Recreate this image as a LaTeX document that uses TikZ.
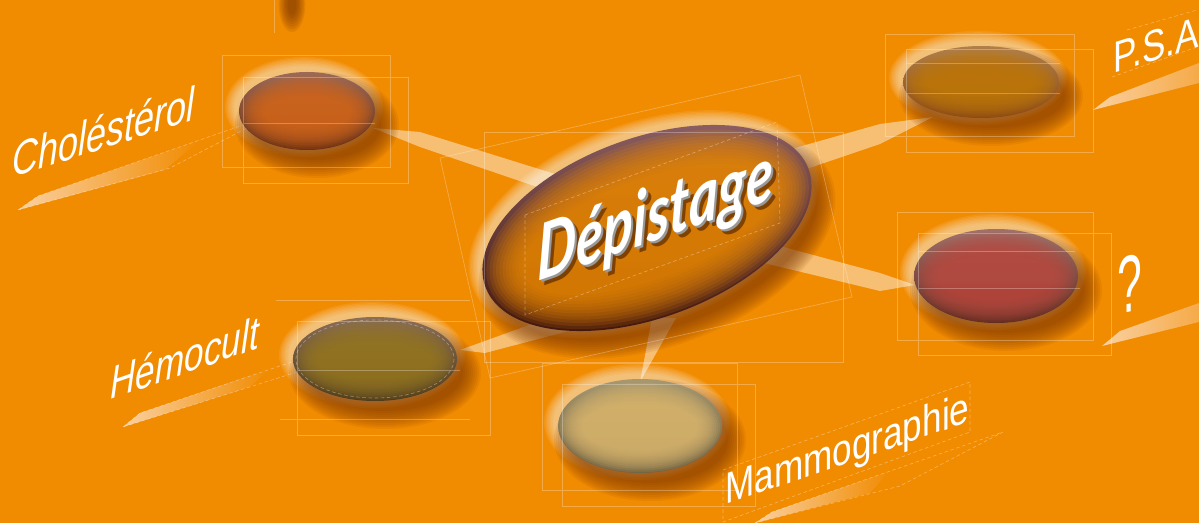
\documentclass[tikz,border=0pt]{standalone}
\usepackage{fontspec}
\setmainfont{Liberation Sans}
\newfontfamily\depfont{Lato}
\usetikzlibrary{calc}
\definecolor{bg}{HTML}{F18B00}
\definecolor{stripc}{HTML}{FAD0A0}
\definecolor{shadowc}{HTML}{7A3400}
\definecolor{cholT}{HTML}{9C6A58}\definecolor{cholC}{HTML}{D8691A}\definecolor{cholB}{HTML}{6A2E10}
\definecolor{psaT}{HTML}{B0804A}\definecolor{psaC}{HTML}{C27A06}\definecolor{psaB}{HTML}{8A4812}
\definecolor{qT}{HTML}{A0706A}\definecolor{qC}{HTML}{BC4A40}\definecolor{qB}{HTML}{5E2A1E}
\definecolor{hemT}{HTML}{8A6E58}\definecolor{hemC}{HTML}{9A7A20}\definecolor{hemB}{HTML}{4A381A}
\definecolor{mamT}{HTML}{A89870}\definecolor{mamC}{HTML}{DFBA70}\definecolor{mamB}{HTML}{6E6040}
\definecolor{cenT}{HTML}{8A5E62}\definecolor{cenC}{HTML}{EE8A00}\definecolor{cenB}{HTML}{3E1206}
\definecolor{depsh}{HTML}{3A1400}
\newcommand\pillstep{2}
\newcommand\pill[9]{%
 \coordinate (#9) at (#1,#2);
 \begin{scope}[shift={(#1,#2)}]
  \begin{scope}[shift={(-3,-4)},rotate=#5]
   \foreach \k in {1,...,8} \fill[white,opacity=0.08] (0,0) ellipse [x radius={#3+1.4*\k}, y radius={#4+1.4*\k}];
  \end{scope}
  \begin{scope}[shift={(10,14)},rotate=#5]
   \foreach \k in {0,...,9} \fill[shadowc,opacity=0.09] (0,0) ellipse [x radius={#3+2*\k-4}, y radius={#4+2*\k-4}];
  \end{scope}
  \begin{scope}[rotate=#5]
   \shade[top color=#6, bottom color=#8] (0,0) ellipse [x radius=#3, y radius=#4];
   \foreach \k in {1,...,12} \fill[#7,opacity=0.14] (0,1.5) ellipse [x radius={#3-\pillstep*\k}, y radius={#4-\pillstep*\k}];
  \end{scope}
 \end{scope}}
\tikzset{
 fl/.style={draw=white, draw opacity=0.28, line width=0.4pt},
 dl/.style={draw=white, draw opacity=0.35, line width=0.35pt, dash pattern=on 2pt off 1.5pt},
 wedge/.style={fill=white, fill opacity=0.45},
 lab/.style={text=white, inner sep=0pt, font=\itshape\fontsize{27}{27}\selectfont},
 dep/.style={anchor=base west, yslant=0.35, xscale=0.72, inner sep=0pt, font=\depfont\bfseries\itshape\fontsize{44}{44}\selectfont},
}
\begin{document}
\begin{tikzpicture}[x=0.02cm,y=-0.02cm]
\fill[bg] (0,0) rectangle (1199,523);
\useasboundingbox (0,0) rectangle (1199,523);
\clip (0,0) rectangle (1199,523);

% label strips
\shade[left color=stripc, right color=bg] (18,210)--(38,196)--(200,140)--(165,170)--cycle;
\draw[dl] (18,210)--(38,196)--(272,115)--(170,168)--cycle;
\shade[left color=stripc, right color=bg] (123,427)--(140,413)--(270,369)--(250,387)--cycle;
\draw[dl] (123,427)--(140,413)--(378,333)--(297,372)--cycle;
\shade[left color=stripc, right color=stripc!45!bg] (1093,110)--(1110,97)--(1199,63)--(1199,83)--cycle;
\shade[left color=stripc, right color=stripc!45!bg] (1102,346)--(1120,331)--(1199,303)--(1199,322)--cycle;
\shade[left color=stripc, right color=bg] (755,523)--(772,512)--(890,471)--(870,493)--cycle;
\draw[dl] (755,523)--(772,512)--(1003,432)--(900,486)--cycle;

% top blob
\foreach \k in {1,...,8} \fill[shadowc,opacity=0.12] (292,4) ellipse [x radius={3+1.3*\k}, y radius={8+2.5*\k}];

% connectors
\fill[wedge] (373,128)--(420,132)--(600,188)--(590,205)--(420,147)--cycle;
\fill[wedge] (933,117)--(880,124)--(770,155)--(780,178)--(880,144)--cycle;
\fill[wedge] (915,285)--(880,273)--(750,238)--(760,262)--(880,291)--cycle;
\fill[wedge] (460,350)--(565,312)--(580,328)--(485,353)--cycle;
\fill[wedge] (640,382)--(652,318)--(676,318)--cycle;

% pills
\pill{307}{111}{68}{39}{0}{cholT}{cholC}{cholB}{chol}
\pill{981}{82}{78}{36}{0}{psaT}{psaC}{psaB}{psa}
\pill{996}{276}{82}{47}{0}{qT}{qC}{qB}{q}
\pill{375}{359}{82}{42}{0}{hemT}{hemC}{hemB}{hemo}
\pill{640}{426}{82}{47}{0}{mamT}{mamC}{mamB}{mammo}
\renewcommand\pillstep{3.3}
\pill{647}{228}{172}{90}{20}{cenT}{cenC}{cenB}{cen}
\draw[dl] (hemo) ellipse [x radius=79, y radius=39];

% faint frame lines
\draw[fl] (222,55) rectangle (390,167) (243,77) rectangle (408,183) (243,123)--(375,123);
\draw[fl] (274,0)--(274,33);
\draw[fl] (885,34) rectangle (1074,136) (906,49) rectangle (1093,152) (906,63)--(1060,63) (906,93)--(1060,93);
\draw[fl] (897,212) rectangle (1093,340) (918,233) rectangle (1111,355) (918,251)--(1075,251) (918,288)--(1080,288);
\draw[fl] (297,321) rectangle (490,435) (276,300)--(470,300) (280,419)--(470,419) (297,370)--(460,370);
\draw[fl] (542,363) rectangle (737,490) (562,384) rectangle (755,506);
\draw[fl] (440,158)--(800,75)--(852,297)--(490,378)--cycle;
\draw[fl] (484,132) rectangle (843,362);
\draw[dl] (525,215)--(777,122)--(780,223)--(525,315)--cycle;
\draw[dl] (1127,30)--(1197,10) (1112,77)--(1197,47);
\draw[dl] (723,470)--(970,382)--(970,432)--(723,522)--cycle;

% labels
\node[lab, anchor=base west, yslant=0.32, xscale=0.76] (tchol) at (12,178) {Choléstérol};
\node[lab, anchor=base west, yslant=0.35, xscale=0.77, font=\itshape\fontsize{26}{26}\selectfont] (themo) at (110,400) {Hémocult};
\node[lab, anchor=base west, yslant=0.32, xscale=0.8, font=\fontsize{25}{25}\selectfont] (tpsa) at (1113,74) {P.S.A};
\node[lab, anchor=base, yslant=0.2, xscale=0.55, font=\fontsize{46}{46}\selectfont] (tq) at (1130,312) {?};
\node[lab, anchor=base west, yslant=0.34, xscale=0.8, font=\fontsize{25}{25}\selectfont] (tmam) at (725,505) {Mammographie};

% central title
\node[dep, text=depsh, opacity=0.55] at (542,287) {Dépistage};
\node[dep, text=black!40] at (539,284) {Dépistage};
\node[dep, text=white] (tdep) at (537,282) {Dépistage};
\end{tikzpicture}
\end{document}
